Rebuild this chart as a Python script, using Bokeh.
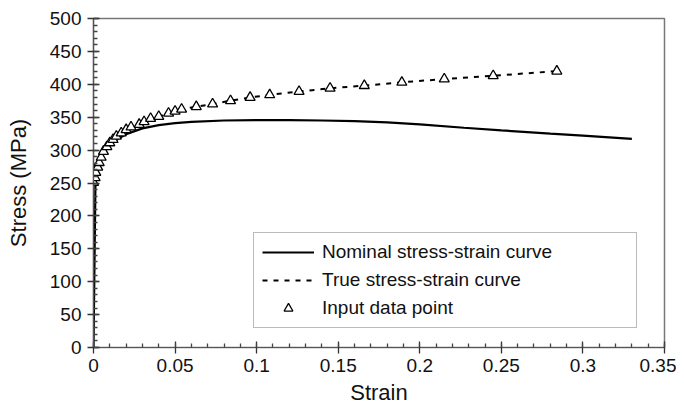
from bokeh.plotting import figure
from bokeh.models import Range1d, FixedTicker, Legend, LegendItem
from bokeh.embed import file_html
from bokeh.resources import INLINE

# Nominal stress-strain curve
nominal_strain = [0.0, 0.0012, 0.002, 0.004, 0.006, 0.01, 0.015, 0.02, 0.03, 0.04,
                  0.05, 0.06, 0.08, 0.10, 0.12, 0.14, 0.16, 0.18, 0.20, 0.227,
                  0.25, 0.28, 0.30, 0.33]
nominal_stress = [0, 250, 265, 284, 295, 307, 317, 324, 333, 338,
                  341, 343, 345, 345.5, 345.5, 345, 344, 342, 339, 334,
                  330, 325, 322, 317]

# True stress-strain curve / input data points
true_strain = [0.0, 0.001, 0.0014, 0.0026, 0.0035, 0.0047, 0.0061, 0.0082, 0.010,
               0.012, 0.014, 0.017, 0.020, 0.023, 0.028, 0.031, 0.035, 0.040,
               0.046, 0.050, 0.054, 0.063, 0.073, 0.084, 0.096, 0.108, 0.126,
               0.145, 0.166, 0.189, 0.215, 0.245, 0.284]
true_stress = [251, 258, 266, 274, 281, 289, 298, 305, 311,
               316, 321, 326, 331, 335, 339, 343, 348, 351,
               356, 359, 362, 366, 370, 375, 380, 384, 389,
               394, 398, 403, 408, 413, 420]

x_ticks = [0, 0.05, 0.1, 0.15, 0.2, 0.25, 0.3, 0.35]
x_tick_labels = ["0", "0.05", "0.1", "0.15", "0.2", "0.25", "0.3", "0.35"]
y_ticks = [0, 50, 100, 150, 200, 250, 300, 350, 400, 450, 500]

FONT = "Liberation Sans"

p = figure(width=676, height=407, output_backend="svg", toolbar_location=None,
           x_range=Range1d(0, 0.35), y_range=Range1d(0, 500),
           min_border_left=93, min_border_right=12, min_border_top=18,
           min_border_bottom=57)

p.xgrid.visible = False
p.ygrid.visible = False
p.outline_line_color = "#777777"
p.outline_line_width = 1.5

r_nom = p.line(nominal_strain, nominal_stress, line_color="black", line_width=2.2)
r_true = p.line(true_strain, true_stress, line_color="black", line_width=2,
                line_dash="5 6")
r_pts = p.scatter(true_strain, true_stress, marker="triangle", size=10,
                  line_color="black", line_width=1.3, fill_color="white")

xt = FixedTicker(ticks=x_ticks,
                 minor_ticks=[round(i * 0.01, 3) for i in range(0, 36)])
yt = FixedTicker(ticks=y_ticks, minor_ticks=list(range(0, 501, 10)))
p.xaxis.ticker = xt
p.yaxis.ticker = yt
p.xaxis.major_label_overrides = {t: l for t, l in zip(x_ticks, x_tick_labels)}

for ax in (p.xaxis, p.yaxis):
    ax.axis_line_color = "#555555"
    ax.axis_line_width = 1.2
    ax.major_tick_line_color = "#333333"
    ax.major_tick_line_width = 1.3
    ax.minor_tick_line_color = "#444444"
    ax.minor_tick_line_width = 1.3
    ax.major_tick_in = 6
    ax.major_tick_out = 6
    ax.minor_tick_in = 4
    ax.minor_tick_out = 0
    ax.major_label_text_font = FONT
    ax.major_label_text_font_size = "19px"
    ax.major_label_text_color = "#111111"
    ax.axis_label_text_font = FONT
    ax.axis_label_text_font_size = "22px"
    ax.axis_label_text_font_style = "normal"
    ax.axis_label_text_color = "#111111"

p.xaxis.axis_label = "Strain"
p.yaxis.axis_label = "Stress (MPa)"
p.xaxis.major_label_standoff = 5
p.yaxis.major_label_standoff = 6
p.xaxis.axis_label_standoff = 5
p.yaxis.axis_label_standoff = 16

legend = Legend(items=[
    LegendItem(label="Nominal stress-strain curve", renderers=[r_nom]),
    LegendItem(label="True stress-strain curve", renderers=[r_true]),
    LegendItem(label="Input data point", renderers=[r_pts]),
], location=(160, 19))
legend.label_text_font = FONT
legend.label_text_font_size = "19px"
legend.label_text_color = "#111111"
legend.glyph_width = 52
legend.glyph_height = 22
legend.label_height = 22
legend.label_width = 306
legend.label_standoff = 8
legend.spacing = 6
legend.padding = 8
legend.margin = 0
legend.border_line_color = "#777777"
legend.border_line_width = 1.3
legend.background_fill_alpha = 1.0
p.add_layout(legend, "center")

open("out.html", "w").write(file_html(p, INLINE))
